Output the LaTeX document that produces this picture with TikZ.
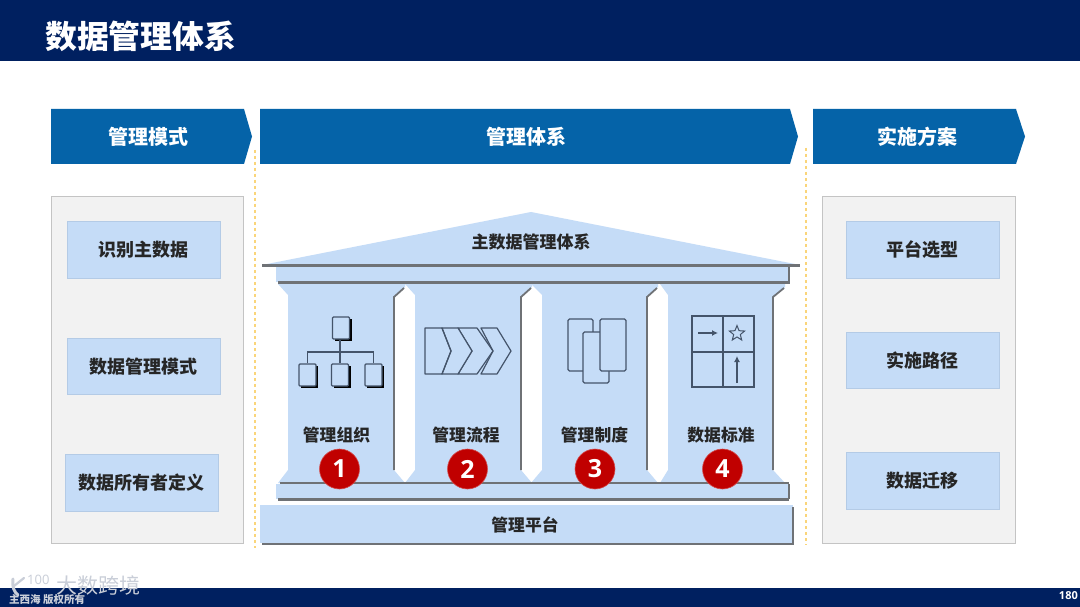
\documentclass[tikz,border=0pt]{standalone}
\usepackage{fontspec}
\usetikzlibrary{arrows.meta,shapes.geometric,calc}
\newfontfamily\cjk{Noto Sans CJK SC}
\newfontfamily\numfont{Open Sans}
\definecolor{navy}{HTML}{002060}
\definecolor{band}{HTML}{0563A8}
\definecolor{lightb}{HTML}{C5DCF7}
\definecolor{panelg}{HTML}{F2F2F2}
\definecolor{panelb}{HTML}{C4C4C4}
\definecolor{edgeb}{HTML}{B4CBE6}
\definecolor{slate}{HTML}{6F7276}
\definecolor{iconl}{HTML}{44546A}
\definecolor{dashy}{HTML}{FAD57A}
\definecolor{redc}{HTML}{C00000}
\definecolor{wmark}{HTML}{C9CED8}
\tikzset{
 x=1pt,y=-1pt,
 txt/.style={font=\cjk\bfseries\fontsize{#1}{#1}\selectfont,text=black!85,inner sep=0pt},
 bandlab/.style={font=\cjk\bfseries\fontsize{20}{20}\selectfont,text=white,inner sep=0pt},
 itembox/.style={draw=edgeb,line width=1pt,fill=lightb,minimum width=153pt,minimum height=56.5pt,inner sep=0pt,font=\cjk\bfseries\fontsize{18}{18}\selectfont,text=black!85},
 panel/.style={draw=panelb,line width=1pt,fill=panelg},
 dashv/.style={draw=dashy,line width=1.3pt,dashed},
 pillar/.style={fill=lightb,draw=none},
 pedge/.style={draw=slate,line width=1.8pt},
 hline/.style={draw=slate,line width=2.2pt},
 icon/.style={draw=iconl,line width=1.2pt},
 orgbox/.style={draw=iconl,line width=1.2pt,fill=lightb,minimum width=17pt,minimum height=22pt,inner sep=0pt,rounded corners=1pt},
 orgshadow/.style={fill=black,minimum width=17pt,minimum height=22pt,inner sep=0pt},
 num/.style={circle,fill=redc,draw=redc!70!white,line width=.6pt,minimum size=40pt,inner sep=0pt,font=\numfont\bfseries\fontsize{25}{25}\selectfont,text=white},
}
\begin{document}
\begin{tikzpicture}
\useasboundingbox (0,0) rectangle (1080,607);
\fill[white] (0,0) rectangle (1080,607);
% bars
\fill[navy] (0,0) rectangle (1080,61);
\fill[navy] (0,588) rectangle (1080,607);
\node[anchor=west,inner sep=0pt,font=\cjk\bfseries\fontsize{31.8}{31.8}\selectfont,text=white] (title) at (45,36) {数据管理体系};
% header bands
\fill[band] (51,109) -- (244,109) -- (252,136.5) -- (244,164) -- (51,164) -- cycle;
\fill[band] (260,109) -- (790,109) -- (798,136.5) -- (790,164) -- (260,164) -- cycle;
\fill[band] (813,109) -- (1016,109) -- (1025,136.5) -- (1016,164) -- (813,164) -- cycle;
\node[bandlab] (h1) at (148,136.5) {管理模式};
\node[bandlab] (h2) at (526,136.5) {管理体系};
\node[bandlab] (h3) at (917,136.5) {实施方案};
% dashed
\draw[dashv] (255,150) -- (255,548);
\draw[dashv] (806,148) -- (806,545);
% panels
\draw[panel] (51,197) rectangle (243,543);
\draw[panel] (822,197) rectangle (1015,543);
\node[itembox] (l1) at (143.5,250) {识别主数据};
\node[itembox] (l2) at (143.5,366.5) {数据管理模式};
\node[itembox] (l3) at (141.5,483) {数据所有者定义};
\node[itembox] (r1) at (922.5,250) {平台选型};
\node[itembox] (r2) at (922.5,360.5) {实施路径};
\node[itembox] (r3) at (922.5,481) {数据迁移};
% pillars
\foreach \a/\b/\c/\d in {278/288/394/405, 405/415/521/532, 531/542/647/658, 660/668/773/785}{
 \fill[pillar] (\a,284) -- (\d,284) -- (\d,287) -- (\c,297) -- (\c,470) -- (\d,483) -- (\a,483) -- (\b,470) -- (\b,295) -- cycle;
 \draw[pedge] (\d-1,288) -- (\c,297) -- (\c,470);
}
% roof and entablature
\fill[lightb] (262,265) -- (531,212) -- (800,265) -- cycle;
\fill[lightb] (276,266) rectangle (789,282);
\draw[hline] (262,265.5) -- (800,265.5);
\draw[hline] (278,282.5) -- (789,282.5) -- (789,266);
\node[txt=17] (roof) at (531,242) {主数据管理体系};
% base
\fill[lightb] (276,484) rectangle (789,499);
\draw[hline] (280,483) -- (789,483);
\draw[hline] (278,499.5) -- (789,499.5);
\draw[slate,line width=1.2pt] (789,484) -- (789,499);
\fill[lightb] (260,505) rectangle (793,543);
\draw[hline] (262,544) -- (793,544) -- (793,507);
\node[txt=16.8] (plat) at (525,525) {管理平台};
% org icon
\foreach \n/\px/\py in {s0/341/328, s1/307.5/375, s2/340/375, s3/373.5/375}
 \node[orgshadow] (\n) at (\px+2,\py+2) {};
\node[orgbox] (org0) at (341,328) {};
\node[orgbox] (org1) at (307.5,375) {};
\node[orgbox] (org2) at (340,375) {};
\node[orgbox] (org3) at (373.5,375) {};
\coordinate (bus) at (340,352);
\draw[icon] (bus) -- (bus |- org0.south);
\draw[icon] (org2.north) -- (bus);
\draw[icon] (org1.north) |- (bus);
\draw[icon] (org3.north) |- (bus);
% chevrons
\draw[icon,line join=round] (481,328) -- (497,328) -- (511,351) -- (497,374) -- (481,374) -- (493,351) -- cycle;
\draw[icon,line join=round] (458,328) -- (477,328) -- (493,351) -- (477,374) -- (458,374) -- (472,351) -- cycle;
\fill[lightb] (442,328) -- (458,328) -- (472,351) -- (458,374) -- (442,374) -- (451,351) -- cycle;
\draw[icon,line join=round] (442,328) -- (458,328) -- (472,351) -- (458,374) -- (442,374) -- (451,351) -- cycle;
\draw[icon,line join=round] (425,328) -- (442,328) -- (451,351) -- (442,374) -- (425,374) -- cycle;
% doc icon
\draw[icon,line width=1.4pt,fill=lightb,rounded corners=1.5pt] (568,319) rectangle (593,371);
\draw[icon,line width=1.4pt,fill=lightb,rounded corners=1.5pt] (583,332) rectangle (609,383);
\draw[icon,line width=1.4pt,fill=lightb,rounded corners=1.5pt] (600,319) rectangle (626,371);
% grid icon
\draw[icon] (692,316) rectangle (754,387);
\draw[icon] (723,316) -- (723,387);
\draw[icon] (692,352) -- (754,352);
\coordinate (a1) at (698,333); \coordinate (a2) at (718,333);
\coordinate (a3) at (737,383); \coordinate (a4) at (737,356);
\draw[icon,-{Latex[length=6pt,width=6pt]}] (a1) -- (a2);
\draw[icon,-{Latex[length=6pt,width=6pt]}] (a3) -- (a4);
\node[star,star points=5,star point ratio=2.3,draw=iconl,line width=1pt,minimum size=16pt,inner sep=0pt] (st) at (737,333.5) {};
% column labels
\node[txt=16.8] (c1) at (336.5,435.5) {管理组织};
\node[txt=16.8] (c2) at (466,435.5) {管理流程};
\node[txt=16.8] (c3) at (594.5,435.5) {管理制度};
\node[txt=16.8] (c4) at (721,435.5) {数据标准};
\node[num] (n1) at (339.5,469) {1};
\node[num] (n2) at (467.5,469) {2};
\node[num] (n3) at (595,469) {3};
\node[num] (n4) at (722.5,469) {4};
% footer
\node[anchor=east,inner sep=0pt,font=\numfont\bfseries\fontsize{11}{11}\selectfont,text=white] (page) at (1078,596) {180};
\node[anchor=west,inner sep=0pt,font=\cjk\bfseries\fontsize{10.5}{10.5}\selectfont,text=wmark] (copy) at (9,600) {主西海 版权所有};
\node[anchor=west,inner sep=0pt,font=\cjk\fontsize{21}{21}\selectfont,text=wmark] (wm) at (56,585) {大数跨境};
\node[anchor=west,inner sep=0pt,font=\numfont\fontsize{13}{13}\selectfont,text=wmark] (logo) at (27,580) {100};
\draw[wmark,line width=3pt,line cap=round] (13,579) .. controls (12,587) and (14,592) .. (18,595);
\draw[wmark,line width=2.2pt,line cap=round] (14,586) -- (24,578);
\end{tikzpicture}
\end{document}
